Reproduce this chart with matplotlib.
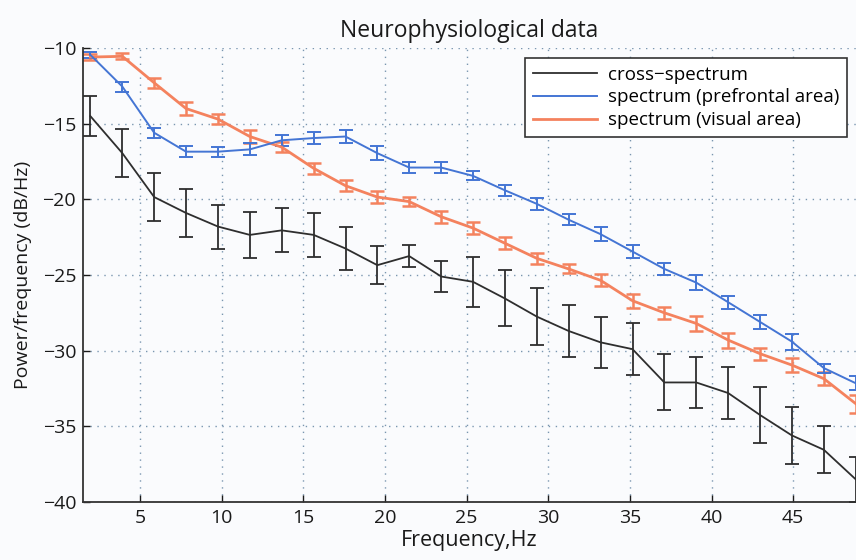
import numpy as np
import matplotlib
matplotlib.use("Agg")
from matplotlib import pyplot as plt

plt.rcParams['font.family'] = ['Open Sans', 'DejaVu Sans']

# frequency bins (Hz)
freq = [1.95, 3.91, 5.86, 7.81, 9.77, 11.72, 13.67, 15.63, 17.58, 19.53,
        21.48, 23.44, 25.39, 27.34, 29.30, 31.25, 33.20, 35.16, 37.11, 39.06,
        41.02, 42.97, 44.92, 46.88, 48.83]

cross = [-14.5, -16.95, -19.85, -20.9, -21.8, -22.35, -22.05, -22.35, -23.25, -24.35,
         -23.75, -25.1, -25.45, -26.55, -27.75, -28.7, -29.45, -29.9, -32.1, -32.1,
         -32.8, -34.25, -35.6, -36.55, -38.5]
cross_err = [1.3, 1.6, 1.6, 1.6, 1.45, 1.5, 1.45, 1.45, 1.4, 1.25,
             0.7, 1.05, 1.65, 1.85, 1.9, 1.75, 1.7, 1.7, 1.85, 1.7,
             1.7, 1.85, 1.9, 1.55, 1.5]

pref = [-10.45, -12.55, -15.6, -16.85, -16.85, -16.7, -16.1, -15.95, -15.85, -16.95,
        -17.9, -17.9, -18.45, -19.4, -20.3, -21.35, -22.3, -23.45, -24.6, -25.5,
        -26.8, -28.1, -29.4, -31.15, -32.15]
pref_err = [0.2, 0.33, 0.32, 0.38, 0.33, 0.4, 0.37, 0.4, 0.4, 0.45,
            0.35, 0.35, 0.3, 0.35, 0.4, 0.35, 0.45, 0.45, 0.4, 0.5,
            0.42, 0.44, 0.53, 0.3, 0.46]

vis = [-10.6, -10.55, -12.3, -14.0, -14.7, -15.85, -16.55, -17.95, -19.1, -19.85,
       -20.15, -21.15, -21.9, -22.9, -23.9, -24.6, -25.35, -26.7, -27.5, -28.2,
       -29.3, -30.2, -30.95, -31.85, -33.5]
vis_err = [0.2, 0.2, 0.35, 0.4, 0.35, 0.45, 0.35, 0.35, 0.35, 0.4,
           0.3, 0.4, 0.4, 0.4, 0.35, 0.3, 0.4, 0.45, 0.4, 0.5,
           0.5, 0.4, 0.45, 0.45, 0.6]

labels = ['cross\u2212spectrum', 'spectrum (prefrontal area)', 'spectrum (visual area)']
c_black = '#2e2e2e'
c_blue = '#4475d4'
c_orange = '#f4825e'

fig = plt.figure(figsize=(8.56, 5.6), dpi=100, facecolor='#fafbfd')
ax = fig.add_axes([83 / 856, 58 / 560, (856 - 83) / 856, 454 / 560])
ax.set_facecolor('#fafbfd')

ax.errorbar(freq, cross, yerr=cross_err, color=c_black, lw=1.3, elinewidth=1.3,
            capsize=5, capthick=1.3, label=labels[0], zorder=3)
ax.errorbar(freq, vis, yerr=vis_err, color=c_orange, lw=2.0, elinewidth=1.8,
            capsize=5, capthick=1.8, label=labels[2], zorder=2)
ax.errorbar(freq, pref, yerr=pref_err, color=c_blue, lw=1.4, elinewidth=1.4,
            capsize=5, capthick=1.4, label=labels[1], zorder=2)

ax.set_xlim(1.5, 48.85)
ax.set_ylim(-40, -10)
ax.set_xticks([5, 10, 15, 20, 25, 30, 35, 40, 45])
ax.set_yticks([-40, -35, -30, -25, -20, -15, -10])
ax.set_yticklabels(['\u221240', '\u221235', '\u221230', '\u221225', '\u221220', '\u221215', '\u221210'])
ax.tick_params(direction='in', length=5, width=1, labelsize=14, colors='#1a1a1a', pad=5)
ax.grid(True, linestyle=(0, (1, 4)), color='#7a96b0', lw=1.0)
ax.set_axisbelow(True)
for s in ['top', 'right']:
    ax.spines[s].set_visible(False)
for s in ['left', 'bottom']:
    ax.spines[s].set_linewidth(1.3)
    ax.spines[s].set_color('#333333')

ax.set_title('Neurophysiological data', fontsize=16.5, pad=8, color='#1a1a1a')
ax.set_xlabel('Frequency,Hz', fontsize=15.5, labelpad=2, color='#1a1a1a')
ax.set_ylabel('Power/frequency (dB/Hz)', fontsize=14, color='#1a1a1a')
ax.yaxis.set_label_coords(-0.078, 0.5)
ax.yaxis.label.set_va('center')

handles, labs = ax.get_legend_handles_labels()
order = [labs.index(l) for l in labels]
leg = ax.legend([handles[i][0] for i in order], [labs[i] for i in order],
                loc='upper right', bbox_to_anchor=(1.0, 0.998), fontsize=13.5,
                fancybox=False, framealpha=1, edgecolor='#333333',
                handlelength=3.4, labelspacing=0.25, borderpad=0.4, handletextpad=0.6)
leg.get_frame().set_linewidth(1.2)

fig.savefig('out.png', dpi=100, facecolor=fig.get_facecolor())
